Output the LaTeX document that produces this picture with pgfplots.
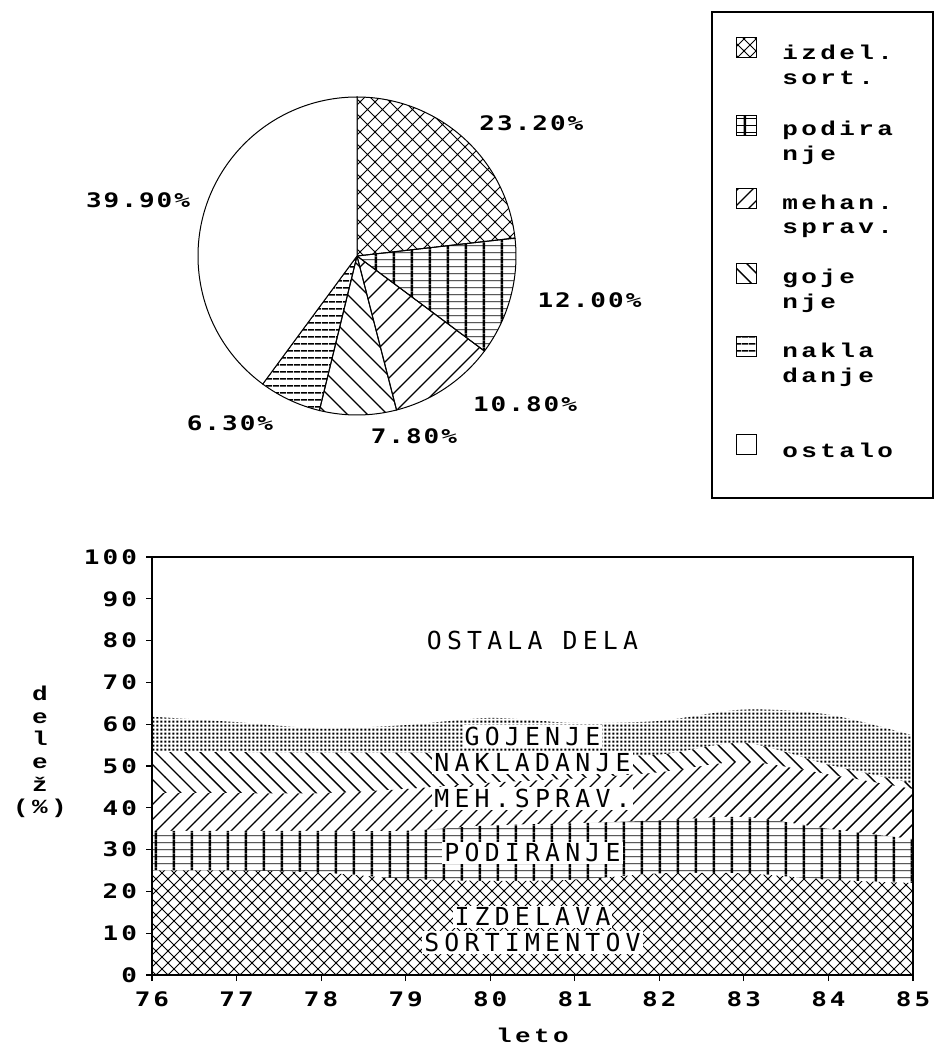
\documentclass[border=0pt]{standalone}
\usepackage{fontspec}
\setmainfont{DejaVu Sans Mono}
\newfontfamily\tickfont{DejaVu Sans Mono}[FakeStretch=1.3, LetterSpace=15]
\newfontfamily\pielabfont{DejaVu Sans Mono}[FakeStretch=1.3, LetterSpace=10]
\newfontfamily\labfont{DejaVu Sans Mono}[LetterSpace=21]
\newfontfamily\legfont{Liberation Mono}[FakeStretch=1.3, LetterSpace=17]
\usepackage{pgfplots}
\usepackage{pgfplotstable}
\pgfplotsset{compat=1.18}
\usetikzlibrary{patterns}

% ---------- patterns ----------
\pgfdeclarepatternformonly{xhatchA}{\pgfpoint{-0.5pt}{-0.5pt}}{\pgfpoint{6.5pt}{6.5pt}}{\pgfpoint{6pt}{6pt}}{%
  \pgfsetlinewidth{0.4pt}%
  \pgfpathmoveto{\pgfpoint{-0.5pt}{-0.5pt}}\pgfpathlineto{\pgfpoint{6.5pt}{6.5pt}}%
  \pgfpathmoveto{\pgfpoint{-0.5pt}{6.5pt}}\pgfpathlineto{\pgfpoint{6.5pt}{-0.5pt}}%
  \pgfusepath{stroke}}
\pgfdeclarepatternformonly{xhatchB}{\pgfpoint{-0.5pt}{-0.5pt}}{\pgfpoint{8pt}{8pt}}{\pgfpoint{7.5pt}{7.5pt}}{%
  \pgfsetlinewidth{0.4pt}%
  \pgfpathmoveto{\pgfpoint{-0.5pt}{-0.5pt}}\pgfpathlineto{\pgfpoint{8pt}{8pt}}%
  \pgfpathmoveto{\pgfpoint{-0.5pt}{8pt}}\pgfpathlineto{\pgfpoint{8pt}{-0.5pt}}%
  \pgfusepath{stroke}}
\pgfdeclarepatternformonly{podir}{\pgfpointorigin}{\pgfpoint{9.2pt}{3.4pt}}{\pgfpoint{9.2pt}{3.4pt}}{%
  \pgfsetlinewidth{1.3pt}%
  \pgfpathmoveto{\pgfpoint{4.6pt}{0pt}}\pgfpathlineto{\pgfpoint{4.6pt}{3.4pt}}\pgfusepath{stroke}%
  \pgfsetlinewidth{0.35pt}%
  \pgfpathmoveto{\pgfpoint{0pt}{1.7pt}}\pgfpathlineto{\pgfpoint{9.2pt}{1.7pt}}\pgfusepath{stroke}}
\pgfdeclarepatternformonly{neA}{\pgfpoint{-1pt}{-1pt}}{\pgfpoint{8.5pt}{8.5pt}}{\pgfpoint{7.5pt}{7.5pt}}{%
  \pgfsetlinewidth{0.7pt}%
  \pgfpathmoveto{\pgfpoint{0pt}{0pt}}\pgfpathlineto{\pgfpoint{7.6pt}{7.6pt}}\pgfusepath{stroke}}
\pgfdeclarepatternformonly{nwA}{\pgfpoint{-1pt}{-1pt}}{\pgfpoint{8.5pt}{8.5pt}}{\pgfpoint{7.5pt}{7.5pt}}{%
  \pgfsetlinewidth{0.7pt}%
  \pgfpathmoveto{\pgfpoint{0pt}{7.5pt}}\pgfpathlineto{\pgfpoint{7.6pt}{-0.1pt}}\pgfusepath{stroke}}
\pgfdeclarepatternformonly{neB}{\pgfpoint{-1pt}{-1pt}}{\pgfpoint{11pt}{11pt}}{\pgfpoint{10pt}{10pt}}{%
  \pgfsetlinewidth{0.6pt}%
  \pgfpathmoveto{\pgfpoint{0pt}{0pt}}\pgfpathlineto{\pgfpoint{10.1pt}{10.1pt}}\pgfusepath{stroke}}
\pgfdeclarepatternformonly{nwB}{\pgfpoint{-1pt}{-1pt}}{\pgfpoint{11pt}{11pt}}{\pgfpoint{10pt}{10pt}}{%
  \pgfsetlinewidth{0.6pt}%
  \pgfpathmoveto{\pgfpoint{0pt}{10pt}}\pgfpathlineto{\pgfpoint{10.1pt}{-0.1pt}}\pgfusepath{stroke}}
\pgfdeclarepatternformonly{hlines}{\pgfpointorigin}{\pgfpoint{3.5pt}{3.5pt}}{\pgfpoint{3.5pt}{3.5pt}}{%
  \pgfsetlinewidth{0.9pt}%
  \pgfpathmoveto{\pgfpoint{0pt}{1.75pt}}\pgfpathlineto{\pgfpoint{3.5pt}{1.75pt}}\pgfusepath{stroke}}
\pgfdeclarepatternformonly{fdots}{\pgfpointorigin}{\pgfpoint{2pt}{2pt}}{\pgfpoint{2pt}{2pt}}{%
  \pgfpathrectangle{\pgfpoint{0.2pt}{0.2pt}}{\pgfpoint{1.3pt}{1.3pt}}\pgfusepath{fill}}

% ---------- data (cumulative tops of the layers, %) ----------
\pgfplotstableread{
x   izd  pod  meh  nak  goj
76  25.0 34.5 43.5 53.3 61.8
77  25.0 34.5 43.5 53.3 60.5
78  24.5 34.5 43.5 53.2 59.0
79  23.0 34.5 44.5 53.2 59.8
80  22.5 35.8 46.0 53.0 61.5
81  22.8 36.3 47.0 52.5 60.3
82  24.3 37.0 48.5 52.7 60.8
83  24.3 37.8 51.0 55.5 63.5
84  22.8 35.0 48.0 50.3 62.3
85  22.0 32.5 44.5 45.8 57.3
}\layers

\begin{document}
\begin{tikzpicture}
\path[use as bounding box] (0,0) rectangle (467.5pt,-523.5pt);

% ================= pie =================
\begin{axis}[at={(178.5pt,-128pt)}, anchor=center, scale only axis,
  width=159pt, height=159pt, xmin=-1, xmax=1, ymin=-1, ymax=1,
  hide axis, clip=false]
\addplot[draw=none, forget plot] coordinates {(0,0)};
% slices: izdel. 23.2, podiranje 12.0, mehan. 10.8, gojenje 7.8, nakladanje 6.3, ostalo 39.9
\draw[line width=0.5pt, pattern=xhatchB] (axis cs:0,0) -- ++(90:79.5pt)
  arc[start angle=90, delta angle={-3.6*23.2}, radius=79.5pt] -- cycle;
\draw[line width=0.5pt, pattern=podir] (axis cs:0,0) -- ++({90-3.6*23.2}:79.5pt)
  arc[start angle={90-3.6*23.2}, delta angle={-3.6*12.0}, radius=79.5pt] -- cycle;
\draw[line width=0.5pt, pattern=neB] (axis cs:0,0) -- ++({90-3.6*35.2}:79.5pt)
  arc[start angle={90-3.6*35.2}, delta angle={-3.6*10.8}, radius=79.5pt] -- cycle;
\draw[line width=0.5pt, pattern=nwB] (axis cs:0,0) -- ++({90-3.6*46.0}:79.5pt)
  arc[start angle={90-3.6*46.0}, delta angle={-3.6*7.8}, radius=79.5pt] -- cycle;
\draw[line width=0.5pt, pattern=hlines] (axis cs:0,0) -- ++({90-3.6*53.8}:79.5pt)
  arc[start angle={90-3.6*53.8}, delta angle={-3.6*6.3}, radius=79.5pt] -- cycle;
\draw[line width=0.5pt, fill=white] (axis cs:0,0) -- ++({90-3.6*60.1}:79.5pt)
  arc[start angle={90-3.6*60.1}, delta angle={-3.6*39.9}, radius=79.5pt] -- cycle;
\begin{scope}[every node/.style={font=\pielabfont\bfseries\fontsize{10}{12}\selectfont, inner sep=0pt}]
\node at (axis cs:1.097,0.836) {23.20\%};
\node at (axis cs:1.462,-0.281) {12.00\%};
\node at (axis cs:1.057,-0.931) {10.80\%};
\node at (axis cs:0.358,-1.135) {7.80\%};
\node at (axis cs:-0.799,-1.050) {6.30\%};
\node at (axis cs:-1.377,0.352) {39.90\%};
\end{scope}
\end{axis}

% ================= legend of the pie =================
\draw[line width=0.6pt] (356pt,-6pt) rectangle (466.5pt,-249pt);
\begin{scope}[every node/.style={font=\legfont\bfseries\fontsize{10}{12.2}\selectfont, anchor=west, align=left, inner sep=0pt}]
\draw[line width=0.5pt, pattern=xhatchA] (368pt,-19pt) rectangle (378pt,-29pt);
\node at (391pt,-32.5pt) {izdel.\\sort.};
\draw[line width=0.5pt, pattern=podir] (368pt,-58pt) rectangle (378pt,-68pt);
\node at (391pt,-71.5pt) {podira\\nje};
\draw[line width=0.5pt, pattern=neA] (368pt,-94.5pt) rectangle (378pt,-104.5pt);
\node at (391pt,-108.2pt) {mehan.\\sprav.};
\draw[line width=0.5pt, pattern=nwA] (368pt,-132pt) rectangle (378pt,-142pt);
\node at (391pt,-145.5pt) {goje\\nje};
\draw[line width=0.5pt, pattern=hlines] (368pt,-168.5pt) rectangle (378pt,-178.5pt);
\node at (391pt,-182.5pt) {nakla\\danje};
\draw[line width=0.5pt, fill=white] (368pt,-217pt) rectangle (378pt,-227pt);
\node at (391pt,-225pt) {ostalo};
\end{scope}

% ================= stacked area chart =================
\begin{axis}[at={(76pt,-487.5pt)}, anchor=south west, scale only axis,
  width=380.5pt, height=209pt,
  xmin=76, xmax=85, ymin=0, ymax=100,
  xtick={76,77,...,85}, ytick={0,10,...,100},
  tick align=outside, xtick pos=bottom, ytick pos=left,
  major tick length=3pt,
  tick style={black, line width=0.6pt},
  axis line style={line width=0.8pt},
  /pgf/number format/assume math mode=true,
  ticklabel style={font=\tickfont\bfseries\fontsize{10}{12}\selectfont},
  xticklabel style={yshift=-2pt},
  yticklabel style={xshift=-1pt},
  xlabel={leto},
  xlabel style={at={(axis description cs:0.5,0)}, anchor=center, yshift=-30pt,
    font=\legfont\bfseries\fontsize{10}{12}\selectfont},
  clip mode=individual, axis on top]
\addplot[draw=none, fill=white, smooth] table[x=x, y=goj] {\layers} \closedcycle;
\addplot[draw=none, pattern=fdots, smooth] table[x=x, y=goj] {\layers} \closedcycle;
\addplot[draw=none, fill=white, smooth] table[x=x, y=nak] {\layers} \closedcycle;
\addplot[draw=none, pattern=nwA, smooth] table[x=x, y=nak] {\layers} \closedcycle;
\addplot[draw=none, fill=white, smooth] table[x=x, y=meh] {\layers} \closedcycle;
\addplot[draw=none, pattern=neA, smooth] table[x=x, y=meh] {\layers} \closedcycle;
\addplot[draw=none, fill=white, smooth] table[x=x, y=pod] {\layers} \closedcycle;
\addplot[draw=none, pattern=podir, smooth] table[x=x, y=pod] {\layers} \closedcycle;
\addplot[draw=none, fill=white, smooth] table[x=x, y=izd] {\layers} \closedcycle;
\addplot[draw=none, pattern=xhatchA, smooth] table[x=x, y=izd] {\layers} \closedcycle;
\begin{scope}[every node/.style={font=\labfont\fontsize{12.4}{14}\selectfont, inner sep=1pt, fill=white}]
\node[fill=none] at (axis cs:80.5,80.1) {OSTALA DELA};
\node at (axis cs:80.5,57.0) {GOJENJE};
\node at (axis cs:80.5,50.7) {NAKLADANJE};
\node at (axis cs:80.5,42.3) {MEH.SPRAV.};
\node at (axis cs:80.5,29.2) {PODIRANJE};
\node at (axis cs:80.5,13.9) {IZDELAVA};
\node at (axis cs:80.5,7.7) {SORTIMENTOV};
\end{scope}
\end{axis}

% y-axis label, letters stacked
\node[font=\legfont\bfseries\fontsize{10}{11.3}\selectfont, align=center, inner sep=0pt]
  at (20pt,-376pt) {d\\e\\l\\e\\ž\\(\%)};
\end{tikzpicture}
\end{document}
